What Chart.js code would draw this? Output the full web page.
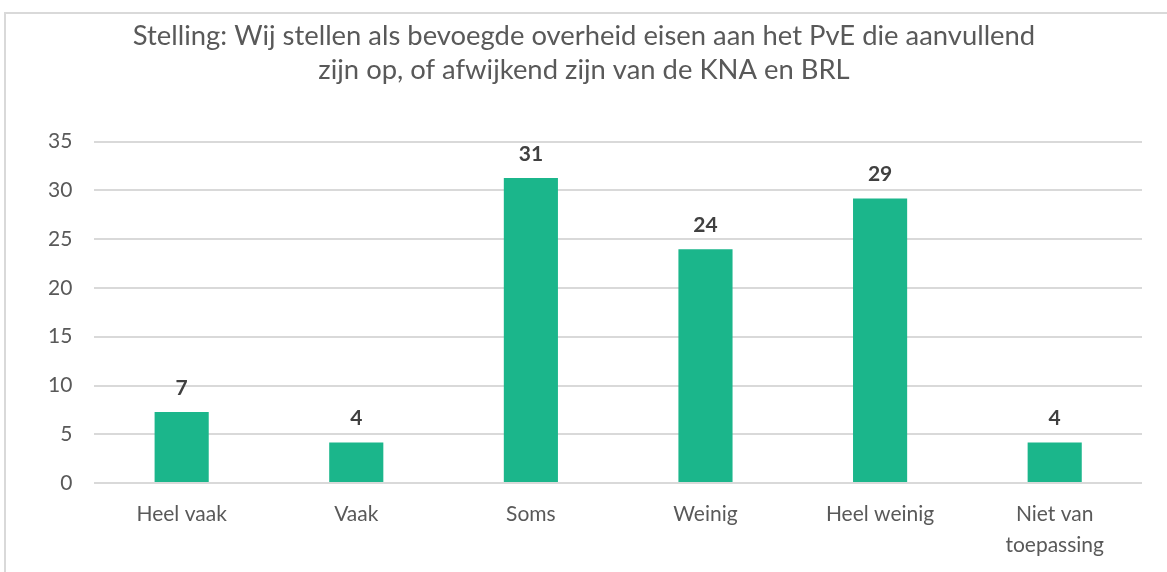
<!DOCTYPE html>
<html>
<head>
<meta charset="utf-8">
<script src="https://cdn.jsdelivr.net/npm/chart.js"></script>
<style>
    body { margin: 0; background: #fff; }
    #frame { position: absolute; left: 4px; top: 12px; width: 1200px; height: 600px; border-left: 2px solid #d9d9d9; border-top: 2px solid #d9d9d9; }
    #wrap { position: absolute; left: 0; top: 0; width: 1167px; height: 572px; }
</style>
</head>
<body>
<div id="frame"></div>
<div id="wrap"><canvas id="myChart"></canvas></div>
<script>
    // percentages (n = 96), labels shown rounded
    const categories = ['Heel vaak', 'Vaak', 'Soms', 'Weinig', 'Heel weinig', ['Niet van', 'toepassing']]
    const values = [7.29, 4.17, 31.25, 23.96, 29.17, 4.17]
    const yTicks = [0, 5, 10, 15, 20, 25, 30, 35]
    const titleLines = ['Stelling: Wij stellen als bevoegde overheid eisen aan het PvE die aanvullend', 'zijn op, of afwijkend zijn van de KNA en BRL']

    const fontName = 'Lato, "Open Sans", sans-serif'

    // value labels above the bars
    const barLabels = {
        id: 'barLabels',
        afterDatasetsDraw(chart) {
            const ctx = chart.ctx
            ctx.save()
            ctx.font = 'bold 21px ' + fontName
            ctx.fillStyle = '#404040'
            ctx.textAlign = 'center'
            ctx.textBaseline = 'middle'
            chart.getDatasetMeta(0).data.forEach((bar, i) => {
                ctx.fillText(Math.round(values[i]), bar.x, bar.y - 24)
            })
            ctx.restore()
        }
    }

    const data = {
        labels: categories,
        datasets: [{
            data: values,
            backgroundColor: '#1bb68b',
            borderWidth: 0,
            categoryPercentage: 1,
            barPercentage: 0.31
        }]
    }

    const config = {
        type: 'bar',
        data,
        plugins: [barLabels],
        options: {
            responsive: false,
            animation: false,
            layout: { padding: { top: 19, left: 26, right: 25, bottom: 4 } },
            plugins: {
                legend: { display: false },
                tooltip: { enabled: false },
                title: {
                    display: true,
                    text: titleLines,
                    color: '#595959',
                    font: { family: fontName, size: 27.4, weight: 'normal', lineHeight: 1.25 },
                    padding: { top: 0, bottom: 54 }
                }
            },
            scales: {
                x: {
                    grid: { display: false },
                    border: { display: false },
                    ticks: { color: '#595959', font: { family: fontName, size: 21, lineHeight: 1.45 }, padding: 8, maxRotation: 0, autoSkip: false }
                },
                y: {
                    min: 0,
                    max: 35,
                    afterBuildTicks: axis => { axis.ticks = yTicks.map(v => ({ value: v })) },
                    grid: { color: '#d9d9d9', lineWidth: 2, drawTicks: false },
                    border: { display: false },
                    ticks: { color: '#595959', font: { family: fontName, size: 21 }, padding: 22 }
                }
            }
        }
    }

    const el = document.getElementById('myChart')
    el.width = 1167
    el.height = 572
    const myChart = new Chart(el, config)
</script>
</body>
</html>
